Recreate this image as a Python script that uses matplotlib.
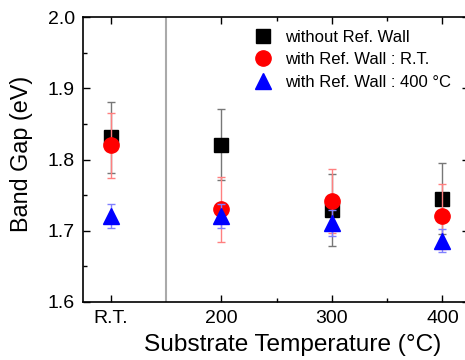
import numpy as np
import matplotlib
matplotlib.use("Agg")
import matplotlib.pyplot as plt
from matplotlib.ticker import MultipleLocator

plt.rcParams['font.family'] = ['Liberation Sans', 'DejaVu Sans']

# data
categories = ["R.T.", "200", "300", "400"]
no_wall = [1.831, 1.821, 1.729, 1.745]
no_wall_err = [0.05, 0.05, 0.051, 0.05]
wall_rt = [1.820, 1.730, 1.741, 1.720]
wall_rt_err = [0.046, 0.046, 0.045, 0.046]
wall_400 = [1.721, 1.720, 1.711, 1.686]
wall_400_err = [0.017, 0.017, 0.018, 0.016]

x = np.arange(len(categories))

fig = plt.figure(figsize=(4.65, 3.6), dpi=100)
# right spine sits just past the image edge, as in the cropped original
ax = fig.add_axes([83 / 465, 58.3 / 360, 386 / 465, 284.4 / 360])

# divider between room temperature and heated samples
ax.axvline(0.5, color='#aaaaaa', lw=1.5, zorder=1)

ax.errorbar(x, no_wall, yerr=no_wall_err, fmt='s', color='black', ms=9.5,
            ecolor='#777777', elinewidth=1, capsize=3, capthick=1,
            label='without Ref. Wall', zorder=3)
ax.errorbar(x, wall_rt, yerr=wall_rt_err, fmt='o', color='red', ms=11,
            ecolor='#ff8080', elinewidth=1, capsize=3, capthick=1,
            label='with Ref. Wall : R.T.', zorder=4)
ax.errorbar(x, wall_400, yerr=wall_400_err, fmt='^', color='blue', ms=11.5,
            ecolor='#8080ff', elinewidth=1, capsize=3, capthick=1,
            label='with Ref. Wall : 400 \u00b0C', zorder=5)

ax.set_xlim(-0.253, 3.24)
ax.set_ylim(1.6, 2.0)
ax.set_xticks(x)
ax.set_xticklabels(categories)
ax.xaxis.set_minor_locator(matplotlib.ticker.FixedLocator([1.5, 2.5]))
ax.yaxis.set_major_locator(MultipleLocator(0.1))
ax.yaxis.set_minor_locator(MultipleLocator(0.05))
ax.yaxis.set_major_formatter(matplotlib.ticker.FormatStrFormatter('%.1f'))

ax.tick_params(which='both', direction='in', top=True, right=True, labelsize=14, pad=6)
ax.tick_params(which='major', length=5, width=1)
ax.tick_params(which='minor', length=3, width=1)
for s in ax.spines.values():
    s.set_linewidth(1.2)

ax.set_xlabel('Substrate Temperature (\u00b0C)', fontsize=17.6)
ax.set_ylabel('Band Gap (eV)', fontsize=16.8)
ax.xaxis.set_label_coords(0.543, -0.115)
ax.yaxis.set_label_coords(-0.13, 0.521)

handles, labels = ax.get_legend_handles_labels()
handles = [h[0] for h in handles]
ax.legend(handles, labels, loc='upper left', bbox_to_anchor=(246 / 465, 1 - 23 / 360),
          bbox_transform=fig.transFigure, frameon=False, fontsize=12,
          handletextpad=0.75, labelspacing=0.45, handlelength=1.2, borderaxespad=0)

fig.savefig('out.png', dpi=100)
